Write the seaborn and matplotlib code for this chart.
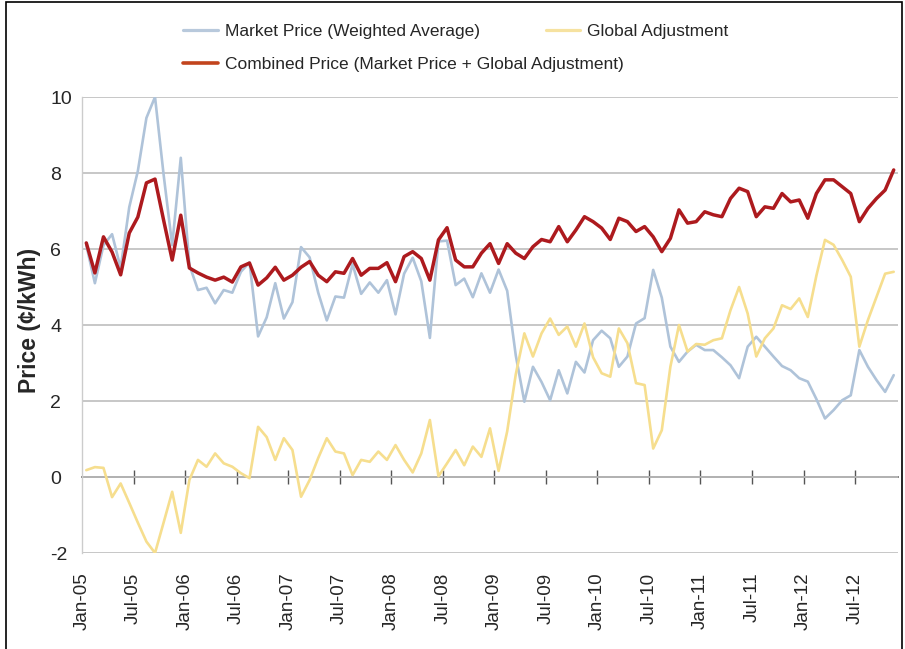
import numpy as np
import pandas as pd
import seaborn as sns
import matplotlib.pyplot as plt
from matplotlib.lines import Line2D
from matplotlib.patches import Rectangle

# valores mensais jan/2005 - nov/2012 (cents/kWh)
market = [6.10, 5.10, 6.10, 6.39, 5.50, 7.10, 8.05, 9.45, 10.0, 7.96,
          6.10, 8.40, 5.58, 4.92, 4.98, 4.57, 4.92, 4.85, 5.40, 5.65,
          3.70, 4.20, 5.10, 4.17, 4.60, 6.05, 5.78, 4.85, 4.12, 4.75,
          4.72, 5.60, 4.82, 5.12, 4.85, 5.18, 4.28, 5.35, 5.77, 5.15,
          3.66, 6.20, 6.22, 5.05, 5.22, 4.73, 5.36, 4.85, 5.46, 4.90,
          3.20, 1.98, 2.90, 2.50, 2.02, 2.81, 2.20, 3.03, 2.75, 3.60,
          3.85, 3.65, 2.90, 3.17, 4.04, 4.18, 5.45, 4.72, 3.43, 3.03,
          3.30, 3.48, 3.34, 3.34, 3.15, 2.94, 2.60, 3.43, 3.69, 3.43,
          3.17, 2.92, 2.81, 2.60, 2.51, 2.05, 1.54, 1.76, 2.02, 2.15,
          3.34, 2.90, 2.55, 2.24, 2.68]
global_adj = [0.18, 0.26, 0.24, -0.53, -0.17, -0.68, -1.20, -1.70, -2.00, -1.20,
              -0.39, -1.47, -0.08, 0.45, 0.27, 0.62, 0.36, 0.27, 0.10, -0.03,
              1.32, 1.05, 0.45, 1.02, 0.71, -0.52, -0.08, 0.50, 1.02, 0.67,
              0.62, 0.05, 0.45, 0.40, 0.67, 0.45, 0.84, 0.45, 0.12, 0.62,
              1.50, 0.02, 0.36, 0.71, 0.31, 0.80, 0.53, 1.28, 0.16, 1.20,
              2.70, 3.78, 3.17, 3.78, 4.17, 3.74, 3.96, 3.43, 4.04, 3.15,
              2.73, 2.64, 3.91, 3.52, 2.47, 2.42, 0.75, 1.23, 2.90, 4.00,
              3.30, 3.50, 3.48, 3.60, 3.65, 4.39, 5.00, 4.30, 3.17, 3.65,
              3.91, 4.52, 4.42, 4.70, 4.21, 5.30, 6.24, 6.11, 5.71, 5.27,
              3.43, 4.13, 4.74, 5.35, 5.40]
combined = [6.16, 5.37, 6.32, 5.92, 5.32, 6.42, 6.84, 7.74, 7.84, 6.76,
            5.71, 6.89, 5.50, 5.37, 5.26, 5.18, 5.26, 5.13, 5.53, 5.63,
            5.05, 5.24, 5.52, 5.18, 5.31, 5.52, 5.67, 5.31, 5.14, 5.40,
            5.36, 5.75, 5.31, 5.49, 5.49, 5.64, 5.14, 5.80, 5.93, 5.75,
            5.18, 6.24, 6.56, 5.71, 5.53, 5.53, 5.89, 6.14, 5.62, 6.14,
            5.89, 5.75, 6.06, 6.25, 6.19, 6.59, 6.19, 6.50, 6.85, 6.72,
            6.55, 6.25, 6.81, 6.72, 6.46, 6.59, 6.32, 5.93, 6.28, 7.03,
            6.68, 6.72, 6.98, 6.90, 6.85, 7.33, 7.60, 7.51, 6.85, 7.11,
            7.07, 7.46, 7.24, 7.29, 6.81, 7.46, 7.82, 7.82, 7.64, 7.46,
            6.72, 7.07, 7.33, 7.55, 8.08]
tick_labels = ['Jan-05', 'Jul-05', 'Jan-06', 'Jul-06', 'Jan-07', 'Jul-07',
               'Jan-08', 'Jul-08', 'Jan-09', 'Jul-09', 'Jan-10', 'Jul-10',
               'Jan-11', 'Jul-11', 'Jan-12', 'Jul-12']

nome_market = 'Market Price (Weighted Average)'
nome_ga = 'Global Adjustment'
nome_comb = 'Combined Price (Market Price + Global Adjustment)'

n = len(combined)
dados = pd.DataFrame({'mes': np.arange(n), nome_market: market,
                      nome_ga: global_adj, nome_comb: combined})
dados = dados.melt(id_vars='mes', var_name='serie', value_name='preco')

sns.set_style('white')
plt.rcParams['font.family'] = ['Liberation Sans', 'DejaVu Sans']

cores = {nome_market: '#afc3d9', nome_ga: '#f6de8e', nome_comb: '#ad1a1e'}
larguras = {nome_market: 1.9, nome_ga: 1.9, nome_comb: 2.5}

fig = plt.figure(figsize=(9.05, 6.49), dpi=100)
ax = fig.add_axes([82 / 905, 1 - 553 / 649, 816 / 905, 456 / 649])

sns.lineplot(data=dados, x='mes', y='preco', hue='serie',
             hue_order=[nome_market, nome_ga, nome_comb], palette=cores,
             size='serie', sizes=larguras, legend=False, ax=ax)

ax.set_xlim(-0.5, n - 0.5)
ax.set_ylim(-2, 10)
ax.set_yticks([-2, 0, 2, 4, 6, 8, 10])
ax.set_yticklabels(['-2', '0', '2', '4', '6', '8', '10'])
ax.grid(axis='y', color='#bdbdbd', linewidth=1.2)
ax.grid(axis='x', visible=False)

# rotulos do eixo x embaixo, tracinhos na linha do zero
pos_ticks = np.arange(0, n, 6) - 0.5
ax.set_xticks(pos_ticks)
ax.set_xticklabels(tick_labels, rotation=90, fontsize=13.5)
ax.tick_params(axis='x', length=0, pad=14)
ax.tick_params(axis='y', length=0, pad=23, labelsize=14)
for rot in ax.get_yticklabels():
    rot.set_horizontalalignment('left')

zero = ax.secondary_xaxis(2 / 12)
zero.set_xticks(pos_ticks[1:])
zero.set_xticklabels([])
zero.tick_params(direction='inout', length=9.5, width=1, color='#555555')
zero.spines['bottom'].set_color('#707070')
zero.spines['bottom'].set_linewidth(1.3)

for lado in ['top', 'right', 'bottom']:
    ax.spines[lado].set_visible(False)
ax.spines['left'].set_color('#cccccc')
ax.spines['left'].set_linewidth(1)

ax.set_xlabel('')
ax.set_ylabel('Price (¢/kWh)', fontsize=16.5, fontweight='bold')
ax.yaxis.set_label_coords(-0.05, 0.511)

# legenda em duas linhas, como no original
h_market = Line2D([], [], color='#b8c9dc', lw=2.3)
h_ga = Line2D([], [], color='#f6e2a0', lw=2.3)
h_comb = Line2D([], [], color='#c2441d', lw=2.6)
estilo = dict(loc='center left', frameon=False, fontsize=12.5, handlelength=2.0,
              handletextpad=0.4, borderpad=0, borderaxespad=0)
fig.legend([h_market, h_ga], [nome_market, nome_ga], ncol=2,
           columnspacing=3.8, bbox_to_anchor=(183 / 905, 1 - 31 / 649), **estilo)
fig.legend([h_comb], [nome_comb], bbox_to_anchor=(183 / 905, 1 - 64 / 649), **estilo)

fig.patches.append(Rectangle((6 / 905, -0.01), 896 / 905, 1.01 - 2 / 649,
                             transform=fig.transFigure, fill=False,
                             edgecolor='black', linewidth=1.2))

fig.savefig('out.png', dpi=100)
